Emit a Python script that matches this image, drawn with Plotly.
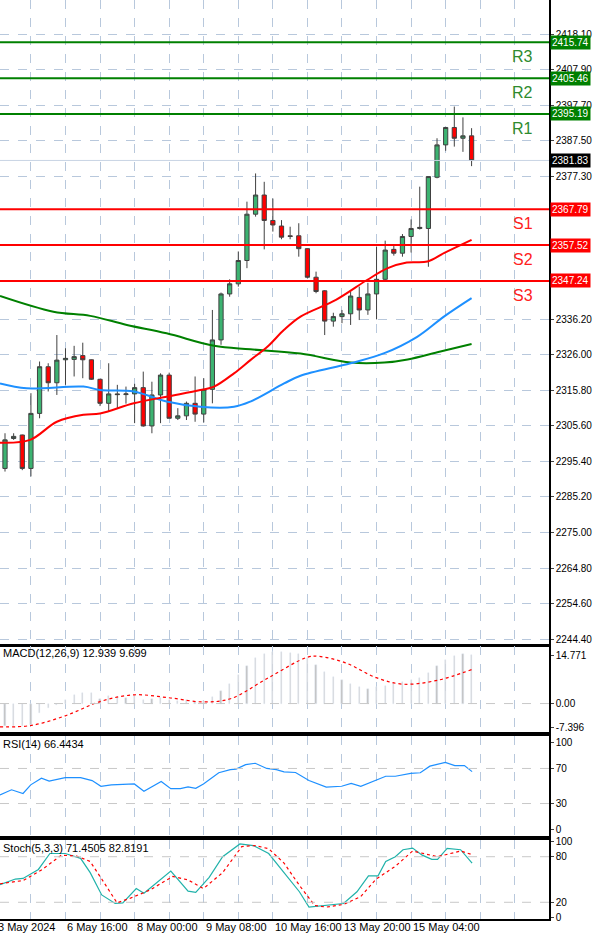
import plotly.graph_objects as go

idx = list(range(55))
opn = [2293.4,2302.0,2303.0,2293.4,2309.2,2322.6,2318.0,2324.6,2324.7,2325.8,2324.6,2319.0,2312.1,2314.8,2314.6,2314.8,2316.6,2305.6,2314.5,2320.2,
       2307.8,2308.5,2312.1,2309.0,2316.1,2330.3,2343.5,2346.4,2353.1,2366.4,2371.9,2364.6,2363.0,2360.2,2360.2,2356.5,2348.3,2344.4,2335.7,2337.0,
       2337.8,2342.5,2338.9,2343.5,2347.7,2356.3,2355.2,2360.0,2362.3,2362.3,2377.0,2386.3,2391.3,2388.2,2388.9]
high = [2303.5,2303.5,2303.1,2315.0,2324.1,2323.6,2331.7,2327.9,2328.6,2329.5,2324.7,2319.1,2323.6,2317.4,2316.9,2317.7,2321.2,2318.3,2320.7,2320.9,
        2310.7,2312.6,2319.8,2319.3,2338.9,2343.9,2347.7,2355.7,2370.0,2378.1,2375.7,2370.9,2364.7,2362.8,2363.8,2356.6,2349.9,2344.6,2338.1,2338.9,
        2344.2,2345.6,2346.7,2357.1,2358.8,2357.8,2360.7,2364.9,2374.3,2377.2,2388.2,2391.4,2397.3,2394.2,2391.1]
low = [2292.5,2301.6,2292.9,2291.1,2307.8,2315.5,2314.5,2317.4,2319.8,2319.3,2318.8,2311.3,2309.7,2310.7,2312.0,2306.4,2305.4,2303.5,2306.4,2307.8,
       2307.3,2307.3,2306.8,2306.6,2312.1,2328.9,2342.7,2345.6,2350.9,2365.7,2356.3,2361.4,2359.2,2359.2,2354.2,2348.0,2343.7,2331.7,2334.1,2335.1,
       2334.6,2336.0,2337.5,2336.2,2347.3,2354.5,2354.2,2355.4,2362.0,2351.3,2376.7,2384.6,2385.8,2384.3,2380.2]
cls = [2301.6,2302.6,2293.4,2309.2,2322.6,2318.0,2324.5,2325.0,2325.5,2324.6,2319.0,2312.1,2314.8,2314.6,2314.8,2316.6,2305.6,2314.5,2320.2,2307.8,
       2308.5,2312.1,2309.0,2316.1,2330.3,2343.5,2346.4,2353.1,2366.4,2371.9,2364.6,2363.3,2359.8,2360.0,2356.5,2348.3,2344.2,2335.7,2337.0,2337.8,
       2342.9,2338.9,2343.5,2347.7,2356.1,2355.2,2360.0,2362.3,2362.6,2377.2,2386.3,2391.3,2388.2,2388.9,2381.83]

ma_red_x = [-0.58,2.9,6.0,9.1,11.0,14.9,18.7,22.6,24.2,26.5,28.4,30.4,32.3,34.2,38.3,41.9,44.3,46.5,48.9,50.8,54]
ma_red_y = [2300.8,2301.6,2306.8,2308.8,2309.2,2312.1,2314.0,2315.9,2316.9,2320.7,2324.5,2328.4,2333.2,2337.0,2341.8,2347.5,2350.9,2352.5,2352.8,2355.2,2359.0]
ma_blue_x = [-0.58,2.51,9.08,11.0,14.9,18.7,22.6,26.5,28.4,32.3,34.2,40.0,43.9,47.7,50.8,54.0]
ma_blue_y = [2317.8,2316.4,2316.9,2315.9,2315.5,2312.6,2311.1,2311.1,2312.6,2317.8,2320.0,2323.6,2326.5,2331.2,2337.0,2342.3]
ma_green_x = [-0.58,5.6,9.86,14.1,18.7,24.2,28.4,34.2,40.0,43.9,46.6,50.4,54.0]
ma_green_y = [2342.9,2338.4,2337.2,2334.6,2332.2,2328.6,2327.6,2326.4,2323.8,2323.8,2324.7,2327.0,2329.1]

levels = [2415.74,2405.46,2395.19,2367.79,2357.52,2347.24]
level_names = ["R3","R2","R1","S1","S2","S3"]
last_price = 2381.83
price_ticks = [2428.50,2418.10,2407.90,2397.70,2387.50,2377.30,2336.20,2326.00,2315.80,2305.60,2295.40,2285.20,2275.00,2264.80,2254.60,2244.40]

macd_hist = [-6.8,-6.8,-7.0,-6.5,-2.8,-1.5,-0.5,1.0,2.5,3.2,3.3,1.5,2.3,2.0,1.8,2.2,1.2,1.5,1.8,1.0,
             0.8,1.0,0.5,0.7,2.0,4.0,6.2,8.7,11.5,14.0,15.4,15.9,15.9,15.6,15.3,14.0,12.0,9.7,8.2,7.2,
             6.0,5.0,4.5,5.0,5.5,6.5,6.8,7.2,8.0,9.5,11.5,13.6,14.6,15.3,15.1]
macd_sig_x = [-0.58,2.97,6.97,11.1,14.97,18.97,22.96,26.1,30.5,34.96,36.3,39.4,42.97,46.06,50.06,54.0]
macd_sig_y = [-7.2,-6.8,-3.8,0.7,2.7,1.8,0.5,1.5,8.0,14.3,14.6,12.6,8.0,6.0,7.2,10.5]

rsi_zx = [0,30,60,80,108,128,170,210,240,263,290,350,375,420,445,470,490,510,530,570,600,615,640,665,695,720,740,770,805,850,890,915,940,980,1005,1030,1070,1095,1120,1160,1185,1210,1230]
rsi_y = [39.8,45.7,41.5,51.3,58.9,55.6,59.5,59.5,56.2,49.7,51.3,52.3,44.1,55.2,47.0,47.0,49.0,47.4,52.3,65.1,68.7,69.3,74.3,75.9,70.0,68.7,66.1,65.4,56.2,48.7,49.7,53.0,49.7,56.2,61.1,61.1,64.4,65.1,72.6,76.9,73.3,73.3,66.4]
stk_zx = [0,40,60,100,130,170,210,235,265,300,320,355,375,410,445,490,510,545,580,625,660,700,740,780,805,850,895,930,960,985,1005,1030,1050,1075,1100,1125,1140,1165,1200,1230]
stk_y = [43.1,50.6,51.4,63.2,84.2,84.2,77.9,59.0,29.7,18.4,19.2,38.1,31.8,46.5,61.1,34.7,33.0,52.8,80.0,96.8,94.7,84.2,59.0,33.9,13.7,15.8,18.4,33.9,54.9,54.9,73.7,80.0,89.2,91.3,82.1,76.6,76.6,90.9,89.2,71.5]
sts_zx = [0,60,110,160,200,235,265,305,340,390,450,490,530,580,630,665,700,740,780,820,850,895,940,980,1030,1075,1140,1200,1230]
sts_y = [44.4,48.6,63.2,82.1,80.8,73.7,50.6,19.2,25.5,36.0,54.0,49.4,38.1,59.0,93.4,94.7,90.5,71.6,42.3,15.8,13.7,17.1,27.6,50.6,67.4,87.5,80.0,87.5,82.8]

date_idx = [-1,7,15,23,31,39,47]
date_lbl = ["3 May 2024","6 May 16:00","8 May 00:00","9 May 08:00","10 May 16:00","13 May 20:00","15 May 04:00"]

def zx2i(v):
    return [z / 2.61 / 8.625 - 5 / 8.625 for z in v]

H = 941
XD = 549 / 600
xr = [-0.58, 62.96]
FONT = "Liberation Sans"

def dom(top, bot):
    return [1 - bot / H, 1 - top / H]

def xpaper(i):
    return (i - xr[0]) / (xr[1] - xr[0]) * XD

fig = go.Figure()
fig.add_trace(go.Candlestick(x=idx, open=opn, high=high, low=low, close=cls, xaxis="x", yaxis="y",
    increasing=dict(fillcolor="#3cb371", line=dict(color="#404040", width=1)),
    decreasing=dict(fillcolor="#ff0000", line=dict(color="#404040", width=1)), whiskerwidth=0))
for xs, ys, c in [(ma_green_x, ma_green_y, "#008000"), (ma_blue_x, ma_blue_y, "#1e90ff"), (ma_red_x, ma_red_y, "#ff0000")]:
    fig.add_trace(go.Scatter(x=xs, y=ys, mode="lines", line=dict(color=c, width=2, shape="spline"), xaxis="x", yaxis="y"))

fig.add_trace(go.Bar(x=idx, y=macd_hist, marker_color="#c0c0c0", width=0.14, xaxis="x2", yaxis="y2"))
fig.add_trace(go.Scatter(x=macd_sig_x, y=macd_sig_y, mode="lines", line=dict(color="#ff0000", width=1.2, dash="dot", shape="spline"), xaxis="x2", yaxis="y2"))
fig.add_trace(go.Scatter(x=zx2i(rsi_zx), y=rsi_y, mode="lines", line=dict(color="#1e90ff", width=1.2), xaxis="x3", yaxis="y3"))
fig.add_trace(go.Scatter(x=zx2i(stk_zx), y=stk_y, mode="lines", line=dict(color="#20b2aa", width=1.2), xaxis="x4", yaxis="y4"))
fig.add_trace(go.Scatter(x=zx2i(sts_zx), y=sts_y, mode="lines", line=dict(color="#ff0000", width=1.2, dash="dot"), xaxis="x4", yaxis="y4"))

vgrid = list(range(3, 63, 4))
shapes = []
anns = []
for lv, nm in zip(levels, level_names):
    col = "#008000" if nm[0] == "R" else "#ff0000"
    shapes.append(dict(type="line", xref="paper", x0=0, x1=XD, yref="y", y0=lv, y1=lv, line=dict(color=col, width=2)))
    anns.append(dict(x=59.9, y=lv, xref="x", yref="y", text=nm, showarrow=False, yanchor="top", yshift=-4,
                     font=dict(size=16, color="#2e8b2e" if nm[0] == "R" else "#ff2020", family=FONT)))
    anns.append(dict(x=XD + 0.002, y=lv, xref="paper", yref="y", text="%.2f" % lv, showarrow=False, xanchor="left",
                     bgcolor=col, font=dict(size=10, color="white", family=FONT), borderpad=1))
shapes.append(dict(type="line", xref="paper", x0=0, x1=XD, yref="y", y0=last_price, y1=last_price, line=dict(color="#c8d4e4", width=1)))
anns.append(dict(x=XD + 0.002, y=last_price, xref="paper", yref="y", text="%.2f" % last_price, showarrow=False, xanchor="left",
                 bgcolor="black", font=dict(size=10, color="white", family=FONT), borderpad=1))
for ref, y in [("y2", 0), ("y3", 70), ("y3", 30), ("y4", 80), ("y4", 20)]:
    shapes.append(dict(type="line", xref="paper", x0=0, x1=XD, yref=ref, y0=y, y1=y, line=dict(color="#c8c8c8", width=1, dash="dash")))

for txt, yt in [("MACD(12,26,9) 12.939 9.699", 661), ("RSI(14) 66.4434", 752), ("Stoch(5,3,3) 71.4505 82.8191", 856)]:
    anns.append(dict(x=0.002, y=1 - yt / H, xref="paper", yref="paper", text=txt, showarrow=False, xanchor="left",
                     font=dict(size=11, color="black", family=FONT)))
for i, t in zip(date_idx, date_lbl):
    anns.append(dict(x=xpaper(i), y=1 - 935 / H, xref="paper", yref="paper", text=t, showarrow=False, xanchor="left",
                     font=dict(size=11, color="black", family=FONT)))

gcol = "#b8c8dc"
def xa(anchor):
    return dict(domain=[0, XD], range=xr, anchor=anchor, showticklabels=False, tickvals=vgrid, showgrid=True,
                gridcolor=gcol, griddash="dash", showline=True, mirror=True, linecolor="black", linewidth=1.5,
                zeroline=False, automargin=False, rangeslider=dict(visible=False))
def ya(d, rng, tv, tt, grid):
    return dict(domain=d, range=rng, side="right", tickvals=tv, ticktext=tt, showgrid=grid, gridcolor=gcol,
                griddash="dash", showline=True, linecolor="black", linewidth=1.5, ticks="outside", ticklen=3,
                zeroline=False, automargin=False, tickfont=dict(size=10, color="black", family=FONT))

fig.update_layout(
    width=600, height=941, margin=dict(l=0, r=0, t=0, b=0, pad=0), paper_bgcolor="white", plot_bgcolor="white",
    showlegend=False, shapes=shapes, annotations=anns, bargap=0,
    xaxis=xa("y"), xaxis2=xa("y2"), xaxis3=xa("y3"), xaxis4=xa("y4"),
    yaxis=ya(dom(0, 645), [2242.7, 2427.9], price_ticks, ["%.2f" % v for v in price_ticks], True),
    yaxis2=ya(dom(646, 732), [-8.8, 17.8], [14.771, 0, -7.396], ["14.771", "0.00", "-7.396"], False),
    yaxis3=ya(dom(736, 836), [-7, 107], [100, 70, 30, 0], ["100", "70", "30", "0"], False),
    yaxis4=ya(dom(840, 919), [-2, 102], [100, 80, 20, 0], ["100", "80", "20", "0"], False),
)
fig.write_html("out.html", config={"displayModeBar": False},
               post_script="document.body.style.margin='0';document.body.style.overflow='hidden';")
